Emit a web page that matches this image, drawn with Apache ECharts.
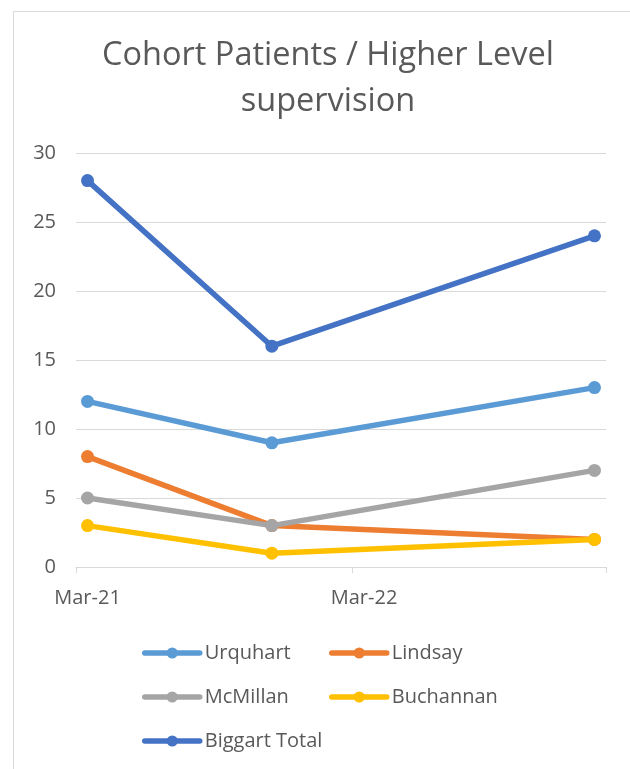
<!DOCTYPE html>
<html>
<head>
<meta charset="utf-8">
<script src="https://cdn.jsdelivr.net/npm/echarts@6/dist/echarts.min.js"></script>
<style>
  html, body { margin: 0; padding: 0; background: #fff; }
  #chart { width: 630px; height: 769px; }
</style>
</head>
<body>
<div id="chart"></div>
<script>
// month cells of the date axis (Mar-21 .. Jan-23)
var months = ['Mar-21', 'Apr-21', 'May-21', 'Jun-21', 'Jul-21', 'Aug-21', 'Sep-21', 'Oct-21',
  'Nov-21', 'Dec-21', 'Jan-22', 'Feb-22', 'Mar-22', 'Apr-22', 'May-22', 'Jun-22', 'Jul-22',
  'Aug-22', 'Sep-22', 'Oct-22', 'Nov-22', 'Dec-22', 'Jan-23']
var dates = ['Mar-21', 'Nov-21', 'Jan-23']

var urquhart = [12, 9, 13]
var lindsay = [8, 3, 2]
var mcmillan = [5, 3, 7]
var buchannan = [3, 1, 2]
var biggartTotal = [28, 16, 24]

var names = ['Urquhart', 'Lindsay', 'McMillan', 'Buchannan', 'Biggart Total']
var values = [urquhart, lindsay, mcmillan, buchannan, biggartTotal]
var colors = ['#5B9BD5', '#ED7D31', '#A5A5A5', '#FFC000', '#4472C4']

var font = 'Open Sans'
var textColor = '#595959'

var series = []
for (var i = 0; i < names.length; i++) {
  var pts = []
  for (var j = 0; j < dates.length; j++) {
    pts.push([dates[j], values[i][j]])
  }
  series.push({
    name: names[i],
    type: 'line',
    data: pts,
    symbol: 'circle',
    symbolSize: 13,
    color: colors[i],
    lineStyle: { width: 5.5, color: colors[i], cap: 'round', join: 'round' },
    itemStyle: { color: colors[i] },
    z: 2 + i
  })
}

// legend laid out like the original: two columns, three rows
var legendPos = [[142, 643], [329, 643], [142, 687], [329, 687], [142, 731]]
var legends = []
for (var k = 0; k < names.length; k++) {
  legends.push({
    data: [names[k]],
    left: legendPos[k][0],
    top: legendPos[k][1],
    padding: 0,
    itemWidth: 55,
    itemHeight: 14,
    lineStyle: { width: 5.5, cap: 'round' },
    textStyle: { fontFamily: font, fontSize: 20, color: textColor }
  })
}

var option = {
  animation: false,
  backgroundColor: '#fff',
  title: {
    text: 'Cohort Patients / Higher Level\nsupervision',
    left: 323,
    top: 28,
    textAlign: 'center',
    textStyle: {
      fontFamily: font,
      fontWeight: 'normal',
      fontSize: 32.5,
      lineHeight: 46,
      color: textColor
    }
  },
  graphic: [{
    type: 'rect',
    shape: { x: 13.5, y: 11.5, width: 700, height: 800 },
    style: { fill: 'none', stroke: '#D9D9D9', lineWidth: 1 },
    silent: true
  }],
  legend: legends,
  grid: { left: 76, right: 24, top: 153, bottom: 202 },
  xAxis: {
    type: 'category',
    data: months,
    boundaryGap: true,
    axisLine: { lineStyle: { color: '#D9D9D9', width: 1 } },
    axisTick: { show: true, interval: 11, length: 6, lineStyle: { color: '#D9D9D9' } },
    axisLabel: { interval: 11, margin: 21, fontFamily: font, fontSize: 20, color: textColor },
    splitLine: { show: false }
  },
  yAxis: {
    type: 'value',
    min: 0,
    max: 30,
    interval: 5,
    axisLine: { show: false },
    axisTick: { show: false },
    axisLabel: { margin: 20, fontFamily: font, fontSize: 20, color: textColor },
    splitLine: { lineStyle: { color: '#D9D9D9', width: 1 } }
  },
  series: series
}

var chart = echarts.init(document.getElementById('chart'))
chart.setOption(option)
</script>
</body>
</html>
